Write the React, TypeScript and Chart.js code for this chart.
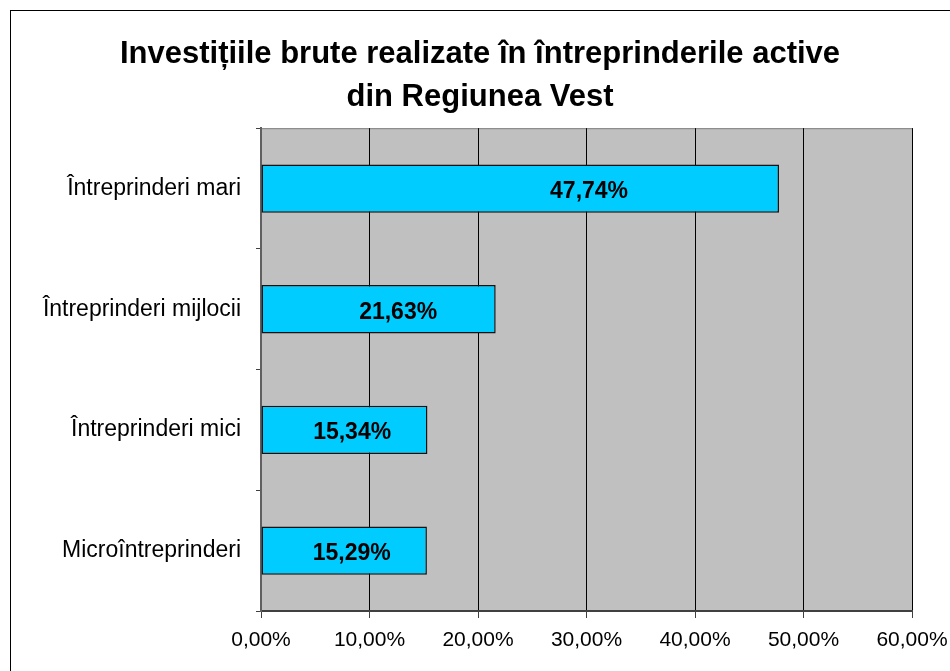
import React, { useEffect, useRef } from "react";
import { Chart, registerables } from "chart.js";

Chart.register(...registerables);

const titleLines = ["Investițiile brute realizate în întreprinderile active", "din Regiunea Vest"];
const categories = ["Întreprinderi mari", "Întreprinderi mijlocii", "Întreprinderi mici", "Microîntreprinderi"];
const shares = [47.74, 21.63, 15.34, 15.29];
const xTickMax = 60;
const xTickStep = 10;

const FONT = "'Liberation Sans', Arial, sans-serif";

const fmt = (v: number, d: number) => v.toFixed(d).replace(".", ",") + "%";

const framePlugin = {
  id: "frame",
  beforeDraw(chart: any) {
    const { ctx, chartArea: a } = chart;
    ctx.save();
    ctx.fillStyle = "#ffffff";
    ctx.fillRect(0, 0, chart.width, chart.height);
    ctx.strokeStyle = "#000000";
    ctx.lineWidth = 1;
    ctx.strokeRect(10.5, 10.5, chart.width + 20, chart.height + 20);
    ctx.fillStyle = "#C0C0C0";
    ctx.fillRect(a.left, a.top, a.right - a.left, a.bottom - a.top);
    ctx.strokeStyle = "#808080";
    ctx.strokeRect(a.left + 0.5, a.top + 0.5, a.right - a.left, a.bottom - a.top);
    ctx.restore();
  },
  afterDatasetsDraw(chart: any) {
    const { ctx } = chart;
    const meta = chart.getDatasetMeta(0);
    const xs = chart.scales.x;
    ctx.save();
    ctx.font = `bold 23px ${FONT}`;
    ctx.fillStyle = "#000000";
    ctx.textAlign = "center";
    ctx.textBaseline = "middle";
    meta.data.forEach((bar: any, i: number) => {
      const v = shares[i];
      const x = xs.getPixelForValue(v * 0.674 - 1.94);
      ctx.fillText(fmt(v, 2), x, bar.y + 3);
    });
    ctx.restore();
  },
};

export default function App() {
  const ref = useRef<HTMLCanvasElement>(null);
  useEffect(() => {
    const chart = new Chart(ref.current!, {
      type: "bar",
      data: {
        labels: categories,
        datasets: [
          {
            data: shares,
            backgroundColor: "#00CCFF",
            borderColor: "#111111",
            borderWidth: 1.5,
            borderSkipped: false,
            categoryPercentage: 1,
            barPercentage: 0.4,
          },
        ],
      },
      options: {
        indexAxis: "y",
        animation: false,
        responsive: false,
        devicePixelRatio: 1,
        layout: { padding: { left: 10, right: 0, top: 10, bottom: 0 } },
        plugins: {
          legend: { display: false },
          tooltip: { enabled: false },
          title: {
            display: true,
            text: titleLines,
            color: "#000000",
            font: { family: FONT, size: 31, weight: "bold", lineHeight: 1.39 },
            padding: { top: 23, bottom: 9 },
          },
        },
        scales: {
          x: {
            min: 0,
            max: xTickMax,
            ticks: {
              stepSize: xTickStep,
              color: "#000000",
              font: { family: FONT, size: 21 },
              padding: 10,
              callback: (v: any) => fmt(Number(v), 2),
            },
            grid: {
              color: (c: any) => (c.index === 0 ? "#606060" : "#000000"),
              lineWidth: 1,
              tickLength: 7,
              tickColor: "#404040",
            },
            border: { color: "#404040", width: 2 },
            afterFit: (s: any) => {
              s.height = 60;
              s.paddingLeft = 0;
              s.paddingRight = 38;
            },
          },
          y: {
            ticks: {
              color: "#000000",
              font: { family: FONT, size: 23 },
              padding: 15,
            },
            grid: {
              drawOnChartArea: false,
              offset: true,
              tickLength: 5,
              tickColor: "#404040",
            },
            border: { color: "#606060", width: 2 },
            afterFit: (s: any) => {
              s.width = 251;
              s.paddingTop = 0;
              s.paddingBottom = 0;
            },
          },
        },
      },
      plugins: [framePlugin],
    } as any);
    return () => chart.destroy();
  }, []);
  return (
    <div style={{ position: "fixed", left: 0, top: 0, width: 950, height: 671, background: "#fff" }}>
      <canvas ref={ref} width={950} height={671} style={{ width: 950, height: 671, display: "block" }} />
    </div>
  );
}
